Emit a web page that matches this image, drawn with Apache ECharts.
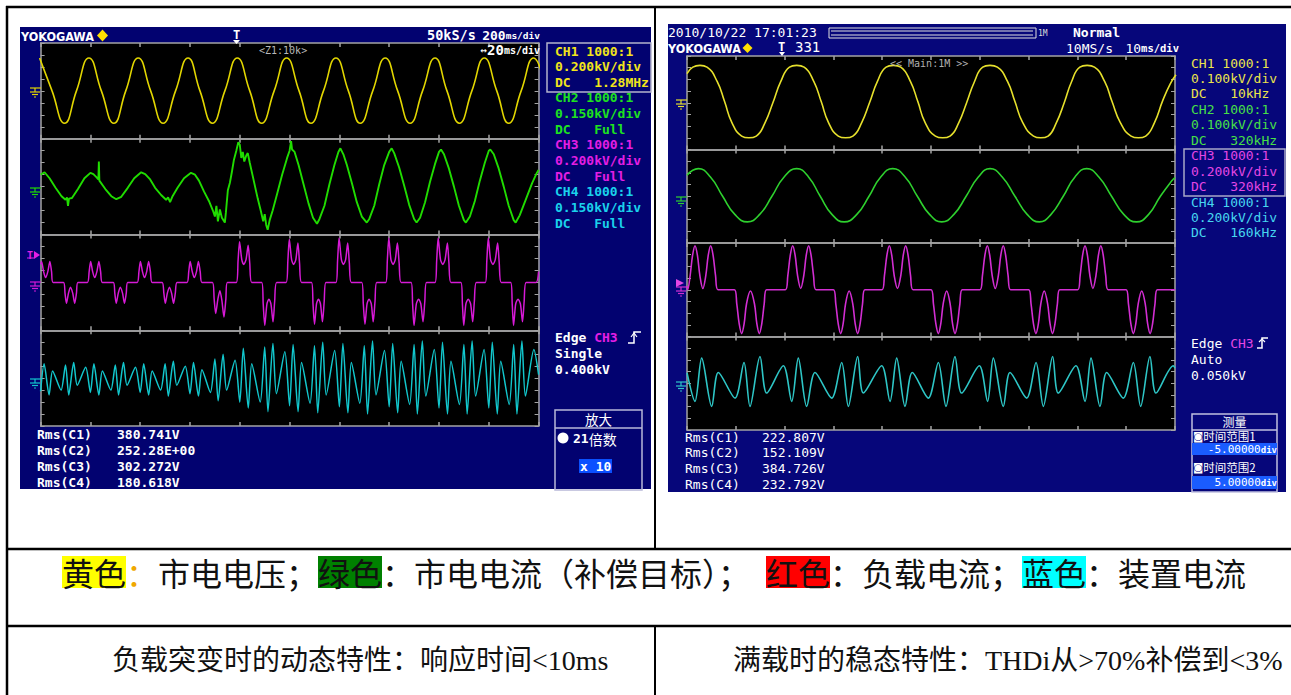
<!DOCTYPE html>
<html><head><meta charset="utf-8">
<script src="https://cdn.jsdelivr.net/npm/echarts/dist/echarts.min.js"></script>
<style>html,body{margin:0;padding:0;background:#fff}#c{width:1291px;height:695px}</style>
</head><body><div id="c"></div>
<script>
// ---------------- DATA (x: time in divisions 0..10, y: divisions from pane centre) -------------
const L_CH1 = [[-0.02,2.75],[0.23,0],[0.48,-2.7],[0.72,0],[0.97,2.75],[1.22,0],[1.47,-2.7],[1.71,0],[1.96,2.75],[2.21,0],[2.46,-2.7],[2.71,0],[2.96,2.75],[3.2,0],[3.45,-2.7],[3.7,0],[3.95,2.75],[4.2,0],[4.44,-2.7],[4.69,0],[4.94,2.75],[5.19,0],[5.43,-2.7],[5.68,0],[5.93,2.75],[6.18,0],[6.42,-2.7],[6.67,0],[6.92,2.75],[7.17,0],[7.42,-2.7],[7.67,0],[7.92,2.75],[8.16,0],[8.41,-2.7],[8.66,0],[8.91,2.75],[9.16,0],[9.4,-2.7],[9.65,0],[9.9,2.75],[10.15,0]];
const L_CH2 = [[0,1.0],[0.08,1.2],[0.18,0.7],[0.3,-0.1],[0.42,-0.8],[0.5,-1.1],[0.53,-0.9],[0.55,-1.6],[0.57,-1.0],[0.63,-0.95],[0.75,-0.2],[0.88,0.7],[1.0,1.15],[1.06,1.05],[1.12,0.8],[1.16,0.6],[1.17,2.1],[1.18,0.5],[1.3,-0.2],[1.42,-0.8],[1.52,-1.05],[1.62,-0.85],[1.75,-0.1],[1.88,0.7],[2.02,1.2],[2.1,1.05],[2.2,0.6],[2.3,-0.1],[2.42,-0.7],[2.52,-1.1],[2.56,-0.9],[2.6,-1.3],[2.65,-0.8],[2.75,-0.1],[2.88,0.7],[3.02,1.15],[3.1,1.0],[3.18,0.5],[3.28,-0.4],[3.38,-1.2],[3.46,-2.0],[3.5,-2.5],[3.53,-1.6],[3.56,-2.9],[3.6,-1.9],[3.64,-2.6],[3.7,-3.0],[3.72,-2.2],[3.76,-0.3],[3.8,0.3],[3.84,1.2],[3.88,2.2],[3.93,3.0],[3.97,3.7],[4.0,3.5],[4.03,2.4],[4.06,2.9],[4.09,2.1],[4.13,2.6],[4.16,2.8],[4.2,2.0],[4.28,0.5],[4.36,-1.0],[4.42,-2.0],[4.47,-2.9],[4.5,-2.3],[4.53,-3.2],[4.56,-3.6],[4.6,-2.8],[4.66,-2.0],[4.75,-0.6],[4.85,1.0],[4.95,2.4],[5.0,3.0],[5.03,3.8],[5.05,3.1],[5.1,2.9],[5.18,1.8],[5.28,0.2],[5.38,-1.4],[5.47,-2.6],[5.55,-3.1],[5.6,-2.7],[5.7,-1.6],[5.8,0.2],[5.9,1.8],[5.98,2.9],[6.02,3.2],[6.08,2.7],[6.15,1.8],[6.25,0.3],[6.35,-1.3],[6.45,-2.5],[6.55,-3.0],[6.6,-2.7],[6.7,-1.6],[6.8,0.2],[6.9,1.8],[7.0,2.9],[7.05,3.2],[7.1,2.8],[7.2,1.6],[7.3,0.1],[7.4,-1.5],[7.5,-2.7],[7.55,-3.0],[7.62,-2.6],[7.72,-1.3],[7.82,0.4],[7.92,1.9],[8.0,2.9],[8.04,3.1],[8.1,2.7],[8.2,1.5],[8.3,0],[8.4,-1.6],[8.5,-2.8],[8.54,-3.0],[8.62,-2.5],[8.72,-1.2],[8.82,0.5],[8.92,2.0],[9.0,3.0],[9.03,3.1],[9.1,2.7],[9.2,1.5],[9.3,0],[9.4,-1.6],[9.5,-2.8],[9.54,-3.0],[9.62,-2.4],[9.75,-1.0],[9.87,0.3],[9.96,1.1],[10,1.4]];
const L_CH3 = [[0,1.5],[0.019,1.75],[0.06,0.9],[0.1,0.4],[0.145,0.9],[0.186,1.75],[0.22,0.9],[0.25,0],
[0.46,0],[0.49,-0.9],[0.519,-1.75],[0.56,-0.9],[0.6,-0.4],[0.645,-0.9],[0.685,-1.75],[0.72,-0.9],[0.75,0],
[0.94,0],[0.975,0.9],[1.005,1.75],[1.045,0.9],[1.088,0.4],[1.13,0.9],[1.171,1.75],[1.205,0.9],[1.24,0],
[1.46,0],[1.49,-0.9],[1.518,-1.75],[1.56,-0.9],[1.6,-0.4],[1.645,-0.9],[1.684,-1.75],[1.72,-0.9],[1.75,0],
[1.94,0],[1.975,0.9],[2.004,1.75],[2.045,0.9],[2.087,0.4],[2.13,0.9],[2.17,1.75],[2.205,0.9],[2.24,0],
[2.44,0],[2.475,-0.9],[2.503,-1.75],[2.545,-0.9],[2.587,-0.4],[2.63,-0.9],[2.67,-1.75],[2.705,-0.9],[2.74,0],
[2.94,0],[2.975,0.9],[3.003,1.75],[3.045,0.9],[3.086,0.4],[3.13,0.9],[3.169,1.75],[3.205,0.9],[3.24,0],
[3.45,0],[3.485,-1.4],[3.516,-2.6],[3.56,-1.4],[3.6,-0.7],[3.64,-1.5],[3.682,-2.9],[3.72,-1.4],[3.75,0],
[3.93,0],[3.965,1.8],[3.995,3.4],[4.04,1.9],[4.08,1.5],[4.125,1.9],[4.168,3.1],[4.2,1.6],[4.24,0],
[4.44,0],[4.47,-1.8],[4.501,-3.6],[4.545,-1.8],[4.585,-1.4],[4.625,-1.8],[4.668,-3.3],[4.7,-1.6],[4.74,0],
[4.93,0],[4.965,1.8],[4.994,3.6],[5.04,1.9],[5.08,1.5],[5.125,1.9],[5.167,3.3],[5.2,1.6],[5.24,0],
[5.44,0],[5.47,-1.8],[5.5,-3.5],[5.54,-1.8],[5.58,-1.4],[5.62,-1.8],[5.66,-3.3],[5.695,-1.6],[5.73,0],
[5.93,0],[5.963,1.8],[5.993,3.7],[6.04,1.9],[6.08,1.5],[6.125,1.9],[6.166,3.3],[6.2,1.6],[6.24,0],
[6.45,0],[6.48,-1.8],[6.513,-3.5],[6.555,-1.8],[6.595,-1.4],[6.64,-1.8],[6.679,-3.3],[6.715,-1.6],[6.75,0],
[6.93,0],[6.962,1.8],[6.992,3.7],[7.035,1.9],[7.078,1.5],[7.122,1.9],[7.165,3.3],[7.2,1.6],[7.24,0],
[7.44,0],[7.47,-1.8],[7.498,-3.6],[7.545,-1.8],[7.59,-1.4],[7.635,-1.8],[7.679,-3.3],[7.715,-1.6],[7.75,0],
[7.92,0],[7.953,1.8],[7.983,3.7],[8.03,1.9],[8.076,1.5],[8.122,1.9],[8.169,3.3],[8.2,1.6],[8.24,0],
[8.44,0],[8.47,-1.8],[8.497,-3.6],[8.54,-1.8],[8.587,-1.4],[8.635,-1.8],[8.677,-3.3],[8.71,-1.6],[8.75,0],
[8.93,0],[8.96,1.8],[8.99,3.7],[9.035,1.9],[9.083,1.5],[9.13,1.9],[9.177,3.3],[9.21,1.6],[9.25,0],
[9.44,0],[9.47,-1.8],[9.497,-3.6],[9.54,-1.8],[9.587,-1.4],[9.635,-1.8],[9.677,-3.3],[9.71,-1.6],[9.75,0],
[9.95,0],[10,0.9]];
const L_CH4 = [[0,-1.1],[0.07,1.2],[0.17,-1.4],[0.24,0.6],[0.41,-1.0],[0.5,1.1],[0.565,-1.4],[0.665,1.3],[0.735,-0.6],[0.905,0.9],
[1.0,-1.2],[1.07,1.2],[1.17,-1.4],[1.24,0.6],[1.41,-1.0],[1.5,1.1],[1.565,-1.4],[1.665,1.3],[1.735,-0.6],[1.905,0.9],
[2.0,-1.2],[2.07,1.2],[2.17,-1.4],[2.24,0.6],[2.41,-1.0],[2.5,1.2],[2.565,-1.5],[2.665,1.4],[2.735,-0.6],[2.905,1.0],
[3.0,-1.3],[3.07,1.3],[3.17,-1.5],[3.24,0.7],[3.41,-1.2],[3.5,1.6],[3.565,-1.9],[3.665,2.0],[3.735,-1.0],[3.905,1.5],
[4.0,-2.0],[4.07,2.5],[4.17,-2.5],[4.24,1.2],[4.41,-2.0],[4.5,2.6],[4.565,-2.8],[4.665,2.9],[4.735,-1.3],[4.905,2.2],
[5.0,-2.3],[5.07,2.8],[5.17,-2.8],[5.24,1.3],[5.41,-2.1],[5.5,2.7],[5.565,-2.9],[5.665,3.0],[5.735,-1.4],[5.905,2.3],
[6.0,-2.4],[6.07,2.9],[6.17,-2.9],[6.24,1.3],[6.41,-2.1],[6.5,2.7],[6.565,-3.0],[6.665,3.1],[6.735,-1.4],[6.905,2.3],
[7.0,-2.4],[7.07,2.9],[7.17,-2.9],[7.24,1.4],[7.41,-2.2],[7.5,2.8],[7.565,-3.0],[7.665,3.1],[7.735,-1.5],[7.905,2.4],
[8.0,-2.5],[8.07,3.0],[8.17,-3.0],[8.24,1.4],[8.41,-2.2],[8.5,2.8],[8.565,-3.0],[8.665,3.1],[8.735,-1.5],[8.905,2.4],
[9.0,-2.5],[9.07,3.0],[9.17,-3.0],[9.24,1.4],[9.41,-2.2],[9.5,2.8],[9.565,-3.0],[9.665,3.1],[9.735,-1.5],[9.905,2.4],[10,0.3]];

const R_CH1 = [[0,2.5],[0.12,3.05],[0.266,3.2],[0.41,3.05],[0.62,1.8],[0.77,0.1],[0.92,-1.7],[1.12,-2.85],[1.27,-3.0],[1.42,-2.85],[1.6,-1.7],[1.76,0],[1.92,1.8],[2.1,3.05],
[2.248,3.2],[2.4,3.05],[2.6,1.8],[2.75,0.1],[2.9,-1.7],[3.1,-2.85],[3.25,-3.0],[3.4,-2.85],[3.58,-1.7],[3.74,0],[3.9,1.8],[4.08,3.05],
[4.23,3.2],[4.38,3.05],[4.58,1.8],[4.73,0.1],[4.88,-1.7],[5.09,-2.85],[5.24,-3.0],[5.39,-2.85],[5.57,-1.7],[5.73,0],[5.89,1.8],[6.06,3.05],
[6.21,3.2],[6.36,3.05],[6.57,1.8],[6.72,0.1],[6.88,-1.7],[7.1,-2.85],[7.25,-3.0],[7.4,-2.85],[7.57,-1.7],[7.73,0],[7.88,1.8],[8.05,3.05],
[8.2,3.2],[8.35,3.05],[8.56,1.8],[8.71,0.1],[8.88,-1.7],[9.1,-2.85],[9.25,-3.0],[9.4,-2.85],[9.58,-1.7],[9.75,0.2],[9.9,1.6],[10.02,2.4]];
const R_CH2 = [[0,1.8],[0.232,2.36],[0.48,1.65],[0.73,0],[0.98,-1.55],[1.236,-2.19],[1.49,-1.55],[1.74,0],[1.99,1.65],
[2.248,2.36],[2.49,1.65],[2.73,0],[2.97,-1.55],[3.22,-2.19],[3.48,-1.55],[3.73,0],[3.97,1.65],
[4.215,2.36],[4.47,1.65],[4.72,0],[4.97,-1.55],[5.22,-2.19],[5.47,-1.55],[5.72,0],[5.97,1.65],
[6.21,2.36],[6.46,1.65],[6.72,0],[6.97,-1.55],[7.22,-2.19],[7.46,-1.55],[7.71,0],[7.95,1.65],
[8.19,2.36],[8.44,1.65],[8.7,0],[8.95,-1.55],[9.21,-2.19],[9.46,-1.55],[9.7,0],[9.93,1.3],[10,1.6]];
const R_CH3 = [[0,0.3],[0.014,0],[0.064,1.21],[0.114,2.94],[0.164,3.77],[0.214,2.94],[0.264,1.21],[0.325,0.11],[0.385,1.21],[0.435,2.94],[0.485,3.77],[0.535,2.94],[0.585,1.21],[0.635,0],
[0.97,0],[1.02,-1.2],[1.07,-2.93],[1.12,-3.75],[1.17,-2.93],[1.22,-1.2],[1.3,-0.11],[1.382,-1.2],[1.432,-2.93],[1.482,-3.75],[1.532,-2.93],[1.582,-1.2],[1.632,0],
[2.016,0],[2.066,1.21],[2.116,2.94],[2.166,3.77],[2.216,2.94],[2.266,1.21],[2.33,0.11],[2.393,1.21],[2.443,2.94],[2.493,3.77],[2.543,2.94],[2.593,1.21],[2.643,0],
[2.999,0],[3.049,-1.2],[3.099,-2.93],[3.149,-3.75],[3.199,-2.93],[3.249,-1.2],[3.323,-0.11],[3.397,-1.2],[3.447,-2.93],[3.497,-3.75],[3.547,-2.93],[3.597,-1.2],[3.647,0],
[3.996,0],[4.046,1.21],[4.096,2.94],[4.146,3.77],[4.196,2.94],[4.246,1.21],[4.313,0.11],[4.381,1.21],[4.431,2.94],[4.481,3.77],[4.531,2.94],[4.581,1.21],[4.631,0],
[5.0,0],[5.05,-1.2],[5.1,-2.93],[5.15,-3.75],[5.2,-2.93],[5.25,-1.2],[5.321,-0.11],[5.392,-1.2],[5.442,-2.93],[5.492,-3.75],[5.542,-2.93],[5.592,-1.2],[5.642,0],
[6.004,0],[6.054,1.21],[6.104,2.94],[6.154,3.77],[6.204,2.94],[6.254,1.21],[6.317,0.11],[6.38,1.21],[6.43,2.94],[6.48,3.77],[6.53,2.94],[6.58,1.21],[6.63,0],
[7.0,0],[7.05,-1.2],[7.1,-2.93],[7.15,-3.75],[7.2,-2.93],[7.25,-1.2],[7.32,-0.11],[7.39,-1.2],[7.44,-2.93],[7.49,-3.75],[7.54,-2.93],[7.59,-1.2],[7.64,0],
[8.006,0],[8.056,1.21],[8.106,2.94],[8.156,3.77],[8.206,2.94],[8.256,1.21],[8.318,0.11],[8.38,1.21],[8.43,2.94],[8.48,3.77],[8.53,2.94],[8.58,1.21],[8.63,0],
[8.996,0],[9.046,-1.2],[9.096,-2.93],[9.146,-3.75],[9.196,-2.93],[9.246,-1.2],[9.318,-0.11],[9.39,-1.2],[9.44,-2.93],[9.49,-3.75],[9.54,-2.93],[9.59,-1.2],[9.64,0],[10,0]];
const R_CH4 = [[0,0.9],
[0.164,-1.55],[0.301,2.15],[0.506,-1.98],[0.642,0.92],[0.984,-1.27],[1.168,1.78],[1.291,-1.98],[1.496,2.29],[1.633,-0.84],[1.974,1.5],
[2.145,-1.55],[2.281,2.15],[2.452,-1.98],[2.623,0.92],[2.965,-1.27],[3.17,1.78],[3.306,-1.98],[3.498,2.29],[3.614,-0.84],[3.989,1.5],
[4.16,-1.55],[4.297,2.15],[4.467,-1.98],[4.617,0.92],[4.945,-1.27],[5.15,1.78],[5.307,-1.98],[5.492,2.29],[5.628,-0.84],[5.99,1.5],
[6.16,-1.55],[6.277,2.15],[6.482,-1.98],[6.619,0.92],[6.96,-1.27],[7.152,1.78],[7.302,-1.98],[7.493,2.29],[7.609,-0.84],[7.97,1.5],
[8.156,-1.55],[8.279,2.15],[8.463,-1.98],[8.6,0.92],[8.941,-1.27],[9.146,1.78],[9.296,-1.98],[9.487,2.29],[9.61,-0.84],[9.966,1.5],[10,1.3]];

const L_CH_TEXT = ['CH1 1000:1','0.200kV/div','DC   1.28MHz','CH2 1000:1','0.150kV/div','DC   Full','CH3 1000:1','0.200kV/div','DC   Full','CH4 1000:1','0.150kV/div','DC   Full'];
const R_CH_TEXT = ['CH1 1000:1','0.100kV/div','DC   10kHz','CH2 1000:1','0.100kV/div','DC   320kHz','CH3 1000:1','0.200kV/div','DC   320kHz','CH4 1000:1','0.200kV/div','DC   160kHz'];
const L_RMS = ['380.741V','252.28E+00','302.272V','180.618V'];
const R_RMS = ['222.807V','152.109V','384.726V','232.792V'];
const RMS_LABELS = ['Rms(C1)','Rms(C2)','Rms(C3)','Rms(C4)'];

// ---------------- LAYOUT ----------------
const CJK = "'Noto Sans CJK SC', sans-serif";
const MONO = "'DejaVu Sans Mono', monospace";
const SERIF = "'Liberation Serif', 'Noto Sans CJK SC', serif";
const AX = '#a4a4a4';
const LG = {left:40.6, top:43, width:498, paneH:95.75};
const RG = {left:687, top:56, width:488, paneH:93.5};
const LCOL = ['#e2d600','#20dc00','#d61ad6','#12c6cc'];
const RCOL = ['#e6e02c','#2ed02e','#d22ed2','#2ec6c6'];
const LTXT = ['#f2e41a','#1ee21e','#e41ee4','#1ad2ec'];
const RTXT = ['#ece44a','#46e046','#e446e4','#46d6f0'];
const LW = [1.6,1.9,1.5,1.5];

const grids=[], xAxes=[], yAxes=[], series=[];
function addPane(geom, i, data, color, smooth, lw){
  const g = grids.length;
  grids.push({left:geom.left, top:geom.top+i*geom.paneH, width:geom.width, height:geom.paneH, show:true, backgroundColor:'#000', borderWidth:0});
  ['bottom','top'].forEach(p=>xAxes.push({type:'value', gridIndex:g, min:0, max:10, interval:1, position:p,
    axisLine:{show:true,onZero:false,lineStyle:{color:AX,width:1.5}}, axisTick:{show:true,inside:true,length:4,lineStyle:{color:AX,width:1.5}},
    axisLabel:{show:false}, splitLine:{show:false}}));
  ['left','right'].forEach(p=>yAxes.push({type:'value', gridIndex:g, min:-4, max:4, interval:1, position:p,
    axisLine:{show:true,onZero:false,lineStyle:{color:AX,width:1.5}}, axisTick:{show:true,inside:true,length:4,lineStyle:{color:AX,width:1}},
    axisLabel:{show:false}, splitLine:{show:false}}));
  series.push({type:'line', xAxisIndex:2*g, yAxisIndex:2*g, data, symbol:'none', showSymbol:false, smooth, clip:true,
    lineStyle:{color, width:lw}, animation:false, silent:true});
}
[L_CH1,L_CH2,L_CH3,L_CH4].forEach((d,i)=>addPane(LG,i,d,LCOL[i], i===0?0.5:(i===1?false:0.25), LW[i]));
[R_CH1,R_CH2,R_CH3,R_CH4].forEach((d,i)=>addPane(RG,i,d,RCOL[i], i===2?0.35:(i===3?0.3:0.5), 1.6));

// ---------------- GRAPHIC (frame, texts) ----------------
const G=[];
function rect(x,y,w,h,fill,stroke,lw,z){G.push({type:'rect',z:z==null?-5:z,silent:true,shape:{x,y,width:w,height:h},style:{fill:fill||'none',stroke:stroke||null,lineWidth:lw||0}});}
function line(x1,y1,x2,y2,c,lw,z){G.push({type:'line',z:z==null?50:z,silent:true,shape:{x1,y1,x2,y2},style:{stroke:c,lineWidth:lw||1}});}
function pl(points,c,lw,fill){G.push({type:fill?'polygon':'polyline',z:50,silent:true,shape:{points},style:fill?{fill:c}:{stroke:c,lineWidth:lw||1,fill:'none'}});}
function txt(x,y,text,fill,o){o=o||{};G.push({type:'text',z:60,x,y,silent:true,style:{text,fill,fontSize:o.size||13,fontFamily:o.family||MONO,fontWeight:o.weight||'bold',
  align:o.align||'left',textAlign:o.align||'left',verticalAlign:'middle',textVerticalAlign:'middle',rich:o.rich,lineHeight:o.lh}});}
function gnd(x,y,c){line(x-5,y-4,x+6,y-4,c,1.2);line(x,y-4,x,y,c,1.2);line(x-5,y,x+5,y,c,1.2);line(x-3,y+2.5,x+3,y+2.5,c,1.2);line(x-1,y+5,x+1,y+5,c,1.2);}

// table frame
line(6,7,1291,7,'#000',2.5,80); line(7,6,7,695,'#000',2.5,80);
line(655,7,655,549,'#000',2,80); line(6,549,1291,549,'#000',2.5,80);
line(6,626,1291,626,'#000',2.5,80); line(655,626,655,695,'#000',2,80);

// screenshot backgrounds
rect(20,27,631,462,'#020270',null,0,-10);
rect(668,24,618,468,'#06067a',null,0,-10);

// ---- left scope texts
txt(21,36,'YOKOGAWA','#fff',{family:"'DejaVu Sans Condensed','DejaVu Sans',sans-serif",size:12.5});
pl([[102.5,29.5],[108,35.5],[102.5,41.5],[97,35.5]],'#ffe000',0,true);
txt(233,35,'T','#fff',{size:12});
pl([[233,40],[240,40],[236.5,44]],'#fff',0,true);
txt(427,35,'50kS/s','#fff',{size:13.5});
txt(540,35,'{a|200}{b|ms/div}','#fff',{align:'right',rich:{a:{fontSize:13,fontFamily:MONO,fontWeight:'bold',fill:'#fff'},b:{fontSize:9.5,fontFamily:MONO,fontWeight:'bold',fill:'#fff'}}});
txt(259,50,'<Z1:10k>','#b8b8b8',{size:10,weight:'normal'});
txt(540,50,'{c|↔}{a|20}{b|ms/div}','#fff',{align:'right',rich:{c:{fontSize:11,fontFamily:MONO,fill:'#fff'},a:{fontSize:14,fontFamily:MONO,fontWeight:'bold',fill:'#fff'},b:{fontSize:10,fontFamily:MONO,fontWeight:'bold',fill:'#fff'}}});
L_CH_TEXT.forEach((t,i)=>txt(555,51+i*15.65,t,LTXT[Math.floor(i/3)]));
rect(547,43,104,49,'none','#b4b4cc',1.5,55);
txt(555,337,'{w|Edge }{m|CH3}','#fff',{rich:{w:{fill:'#fff',fontSize:13,fontFamily:MONO,fontWeight:'bold'},m:{fill:'#e41ee4',fontSize:13,fontFamily:MONO,fontWeight:'bold'}}});
pl([[628,343],[634,343],[634,332],[641,332]],'#fff',1.5); pl([[631,337],[634,333],[637,337]],'#fff',1.2);
txt(555,353,'Single','#fff'); txt(555,369,'0.400kV','#fff');
RMS_LABELS.forEach((t,i)=>{txt(37,434.5+i*16,t,'#fff');txt(117,434.5+i*16,L_RMS[i],'#fff');});
rect(555,410,87,80,'none','#b8b8d8',1.5,55); line(555,428,642,428,'#b8b8d8',1.5,55);
txt(598.5,418.5,'放大','#fff',{family:CJK,size:13.5,weight:'normal',align:'center',lh:15});
G.push({type:'circle',z:60,silent:true,shape:{cx:563,cy:438,r:5.5},style:{fill:'#fff'}});
txt(573,438.5,'{a|21}{b|倍数}','#fff',{lh:15,rich:{a:{fill:'#fff',fontSize:13,fontFamily:MONO,fontWeight:'bold',lineHeight:15},b:{fill:'#fff',fontSize:14,fontFamily:CJK,lineHeight:15}}});
rect(579,459,33,14,'#0a50ff',null,0,55);
txt(580,466,'x 10','#fff');
// ground markers left
gnd(35,92,LCOL[0]); gnd(35,192,LCOL[1]); gnd(35,286,LCOL[2]); gnd(35,383,LCOL[3]);
txt(27,255,'T','#e41ee4',{size:10}); pl([[34,251],[40,255],[34,259]],'#e41ee4',0,true); line(27,258,34,258,'#e41ee4',1);

// ---- right scope texts
txt(668,32,'2010/10/22 17:01:23','#fff',{weight:'normal'});
rect(829,28,207,10,'none','#e0e0e0',1,55); line(831,31,1033,31,'#e0e0e0',1); line(831,35,1033,35,'#e0e0e0',1);
txt(1038,33,'1M','#ddd',{size:8,weight:'normal'});
txt(1073,32,'Normal','#fff');
txt(668,48,'YOKOGAWA','#fff',{family:"'DejaVu Sans Condensed','DejaVu Sans',sans-serif",size:12.5});
pl([[747.5,43],[752.5,48],[747.5,53],[742.5,48]],'#ffe000',0,true);
txt(778,47,'T','#fff',{size:12}); pl([[779,52],[785,52],[782,56]],'#fff',0,true);
txt(795,47,'331','#fff',{size:14,weight:'normal'});
txt(1066,48,'10MS/s','#fff',{weight:'normal'});
txt(1179,48,'{a|10}{b|ms/div}','#fff',{align:'right',rich:{a:{fontSize:13,fontFamily:MONO,fill:'#fff'},b:{fontSize:10.5,fontFamily:MONO,fontWeight:'bold',fill:'#fff'}}});
txt(890,63,'<< Main:1M >>','#b0b0b0',{size:10,weight:'normal'});
R_CH_TEXT.forEach((t,i)=>txt(1191,63+i*15.45,t,RTXT[Math.floor(i/3)],{weight:'normal'}));
rect(1184,149,101,47,'none','#a8a8c8',1.5,55);
txt(1191,343,'{w|Edge }{m|CH3}','#fff',{rich:{w:{fill:'#fff',fontSize:13,fontFamily:MONO},m:{fill:'#e446e4',fontSize:13,fontFamily:MONO}}});
pl([[1257,348],[1262,348],[1262,338],[1268,338]],'#fff',1.5); pl([[1259,342],[1262,339],[1265,342]],'#fff',1.2);
txt(1191,359,'Auto','#fff',{weight:'normal'}); txt(1191,375,'0.050kV','#fff',{weight:'normal'});
RMS_LABELS.forEach((t,i)=>{txt(685,437+i*15.7,t,'#fff',{weight:'normal'});txt(762,437+i*15.7,R_RMS[i],'#fff',{weight:'normal'});});
rect(1192,414,85,78,'none','#c0c0e0',1.5,55); line(1192,430,1277,430,'#c0c0e0',1.5,55);
txt(1234.5,421.5,'测量','#fff',{family:CJK,size:12,weight:'normal',align:'center',lh:12});
txt(1193,436,'{i|◙}{b|时间范围1}','#fff',{lh:11,rich:{i:{fill:'#fff',fontSize:10.5,fontFamily:"'DejaVu Sans',sans-serif",lineHeight:11},b:{fill:'#fff',fontSize:11.5,fontFamily:CJK,lineHeight:11}}});
rect(1192,443,85,12,'#1a5cff',null,0,55);
txt(1277,449.5,'{a|-5.00000}{b|div}','#fff',{align:'right',lh:10,rich:{a:{fill:'#fff',fontSize:11,fontFamily:MONO,lineHeight:10},b:{fill:'#fff',fontSize:9,fontFamily:MONO,fontWeight:'bold',lineHeight:10}}});
txt(1193,467,'{i|◙}{b|时间范围2}','#fff',{lh:11,rich:{i:{fill:'#fff',fontSize:10.5,fontFamily:"'DejaVu Sans',sans-serif",lineHeight:11},b:{fill:'#fff',fontSize:11.5,fontFamily:CJK,lineHeight:11}}});
rect(1192,476,85,13,'#1a5cff',null,0,55);
txt(1277,482.5,'{a|5.00000}{b|div}','#fff',{align:'right',lh:10,rich:{a:{fill:'#fff',fontSize:11,fontFamily:MONO,lineHeight:10},b:{fill:'#fff',fontSize:9,fontFamily:MONO,fontWeight:'bold',lineHeight:10}}});
gnd(681,104,RCOL[0]); gnd(681,201,RCOL[1]); gnd(681,291,RCOL[2]); gnd(681,386,RCOL[3]);
pl([[676,279],[684,283],[676,287]],'#e446e4',0,true);

// ---- captions
const cap = (bg)=>({backgroundColor:bg,fill:'#111',fontSize:32,fontFamily:CJK,lineHeight:42});
txt(62,572,'{yl|黄色}{yc|：}市电电压；{gr|绿色}：市电电流（补偿目标）；{rd|红色}：负载电流；{bl|蓝色}：装置电流','#111',
  {family:CJK,size:32,weight:'normal',lh:42,rich:{yl:cap('#ffff00'),yc:{fill:'#f0a800',fontSize:32,fontFamily:CJK,lineHeight:42},gr:cap('#008000'),rd:cap('#ff0000'),bl:cap('#00ffff')}});
txt(112,660,'负载突变时的动态特性：响应时间<10ms','#111',{family:SERIF,size:28,weight:'normal'});
txt(733,660,'满载时的稳态特性：THDi从>70%补偿到<3%','#111',{family:SERIF,size:28,weight:'normal'});

const chart = echarts.init(document.getElementById('c'), null, {renderer:'svg'});
chart.setOption({backgroundColor:'#fff', animation:false, grid:grids, xAxis:xAxes, yAxis:yAxes, series, graphic:{elements:G}});
</script></body></html>
